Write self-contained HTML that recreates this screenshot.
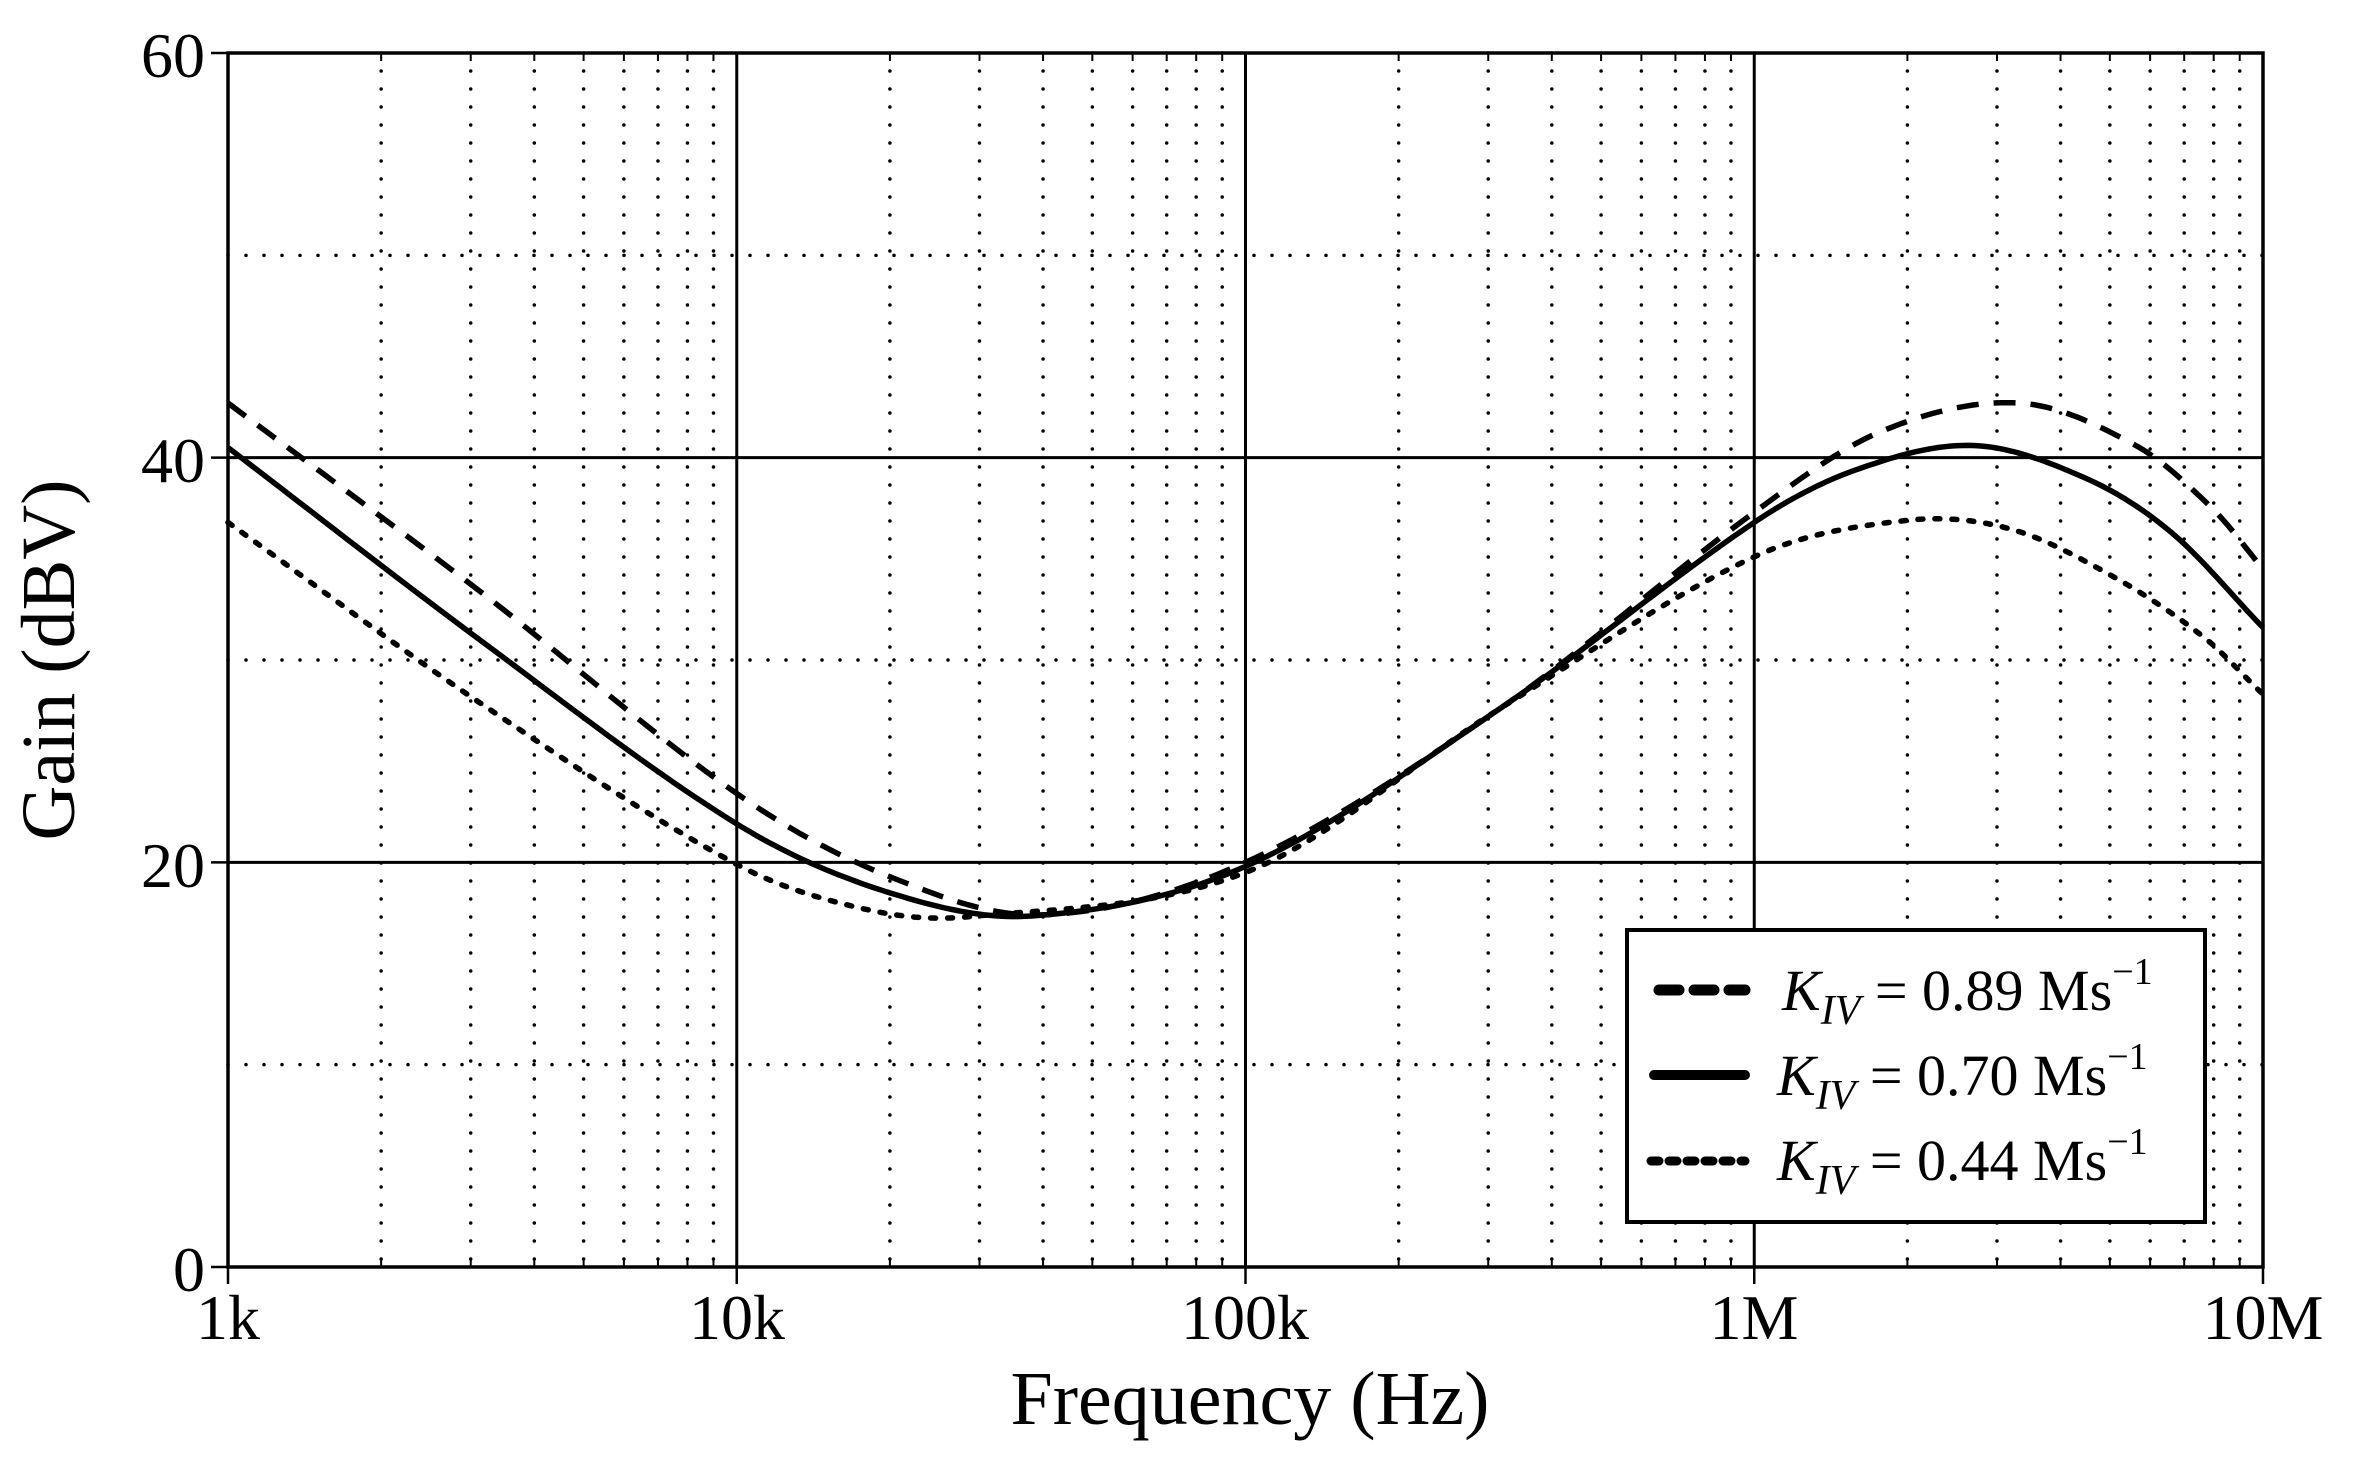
<!DOCTYPE html>
<html><head><meta charset="utf-8"><style>
html,body{margin:0;padding:0;background:#fff;}
svg{display:block;}
text{font-family:"Liberation Serif",serif;fill:#000;}
</style></head><body>
<svg id="s" width="2358" height="1476" xmlns="http://www.w3.org/2000/svg">
<rect width="2358" height="1476" fill="#fff"/>
<g id="grid"></g>
<g id="curves" fill="none" stroke="#000" stroke-width="5.5"></g>
<rect x="228" y="53" width="2035" height="1214" fill="none" stroke="#000" stroke-width="3.5"/>
<g id="ticks" stroke="#000" stroke-width="2.5"></g>
<g font-size="64">
<text x="205" y="77" text-anchor="end">60</text>
<text x="205" y="482" text-anchor="end">40</text>
<text x="205" y="887" text-anchor="end">20</text>
<text x="205" y="1291" text-anchor="end">0</text>
<text x="228" y="1339" text-anchor="middle">1k</text>
<text x="737" y="1339" text-anchor="middle">10k</text>
<text x="1245" y="1339" text-anchor="middle">100k</text>
<text x="1754" y="1339" text-anchor="middle">1M</text>
<text x="2263" y="1339" text-anchor="middle">10M</text>
</g>
<text x="1250" y="1424" font-size="76" text-anchor="middle">Frequency (Hz)</text>
<text transform="translate(74,660) rotate(-90)" font-size="76" text-anchor="middle">Gain (dBV)</text>
<rect x="1627" y="930" width="578" height="292" fill="#fff" stroke="#000" stroke-width="4"/>
<g stroke="#000" stroke-width="11" stroke-linecap="round">
<line x1="1659" y1="990" x2="1745" y2="990" stroke-dasharray="20 15"/>
<line x1="1654" y1="1075" x2="1745" y2="1075" stroke-width="10"/>
<line x1="1651" y1="1161" x2="1745" y2="1161" stroke-width="9" stroke-dasharray="8 10"/>
</g>
<g font-size="58">
<text x="1782" y="1010"><tspan font-style="italic">K</tspan><tspan font-style="italic" font-size="42" dy="14">IV</tspan><tspan dy="-14"> = 0.89 Ms</tspan><tspan font-size="38" dy="-26">−1</tspan></text>
<text x="1777" y="1095"><tspan font-style="italic">K</tspan><tspan font-style="italic" font-size="42" dy="14">IV</tspan><tspan dy="-14"> = 0.70 Ms</tspan><tspan font-size="38" dy="-26">−1</tspan></text>
<text x="1777" y="1180"><tspan font-style="italic">K</tspan><tspan font-style="italic" font-size="42" dy="14">IV</tspan><tspan dy="-14"> = 0.44 Ms</tspan><tspan font-size="38" dy="-26">−1</tspan></text>
</g>
</svg>
<script>
var X0=228,X1=2263,Y0=1267,Y1=53;
function px(l){return X0+(l-3)*(X1-X0)/4;}
function py(d){return Y0-(d)*(Y0-Y1)/60;}
var ns="http://www.w3.org/2000/svg";
var g=document.getElementById('grid'),t=document.getElementById('ticks');
function ln(p,a,b,c,d,w,da){var e=document.createElementNS(ns,'line');e.setAttribute('x1',a);e.setAttribute('y1',b);e.setAttribute('x2',c);e.setAttribute('y2',d);e.setAttribute('stroke','#000');e.setAttribute('stroke-width',w);if(da){e.setAttribute('stroke-dasharray',da);e.setAttribute('stroke-linecap','round');}p.appendChild(e);}
for(var dcd=3;dcd<7;dcd++){for(var k=2;k<10;k++){var x=px(dcd+Math.log10(k));ln(g,x,Y1,x,Y0,3.5,'0 18');ln(t,x,Y0,x,Y0-8,2);ln(t,x,Y1,x,Y1+8,2);}}
for(var d=1;d<4;d++){var x=px(3+d);ln(g,x,Y1,x,Y0,3);}
[20,40].forEach(function(v){ln(g,X0,py(v),X1,py(v),3);});
[10,30,50].forEach(function(v){ln(g,X0,py(v),X1,py(v),3.5,'0 18');});
for(var d=0;d<5;d++){var x=px(3+d);ln(t,x,Y0,x,Y0+17,2.5);}
for(var v=0;v<=60;v+=20){ln(t,X0-17,py(v),X0,py(v),2.5);}
var C={
dash:[[3,42.7],[3.5,33.3],[4,23.4],[4.3,19.3],[4.6,17.4],[5,20],[5.5,27.6],[6,37.3],[6.25,41.3],[6.52,42.7],[6.75,40.6],[6.9,37.5],[7,34.5]],
solid:[[3,40.5],[3.5,30.9],[4,21.9],[4.3,18.5],[4.58,17.35],[5,19.8],[5.5,27.6],[6,36.8],[6.2,39.4],[6.43,40.6],[6.65,39.0],[6.82,36.3],[7,31.6]],
dot:[[3,36.8],[3.5,27.8],[4,19.9],[4.25,17.7],[4.45,17.3],[5,19.5],[5.5,27.6],[6,35.1],[6.3,36.9],[6.5,36.5],[6.7,34.2],[6.88,31.2],[7,28.3]]};
function path(P){var n=P.length,m=[];
for(var i=0;i<n;i++){var a=i>0?i-1:i,b=i<n-1?i+1:i;m[i]=(P[b][1]-P[a][1])/(P[b][0]-P[a][0]);}
var s='';
for(var i=0;i<n-1;i++){var h=P[i+1][0]-P[i][0];for(var k=(i?1:0);k<=24;k++){var u=k/24,h00=2*u*u*u-3*u*u+1,h10=u*u*u-2*u*u+u,h01=-2*u*u*u+3*u*u,h11=u*u*u-u*u;
var x=P[i][0]+u*h,y=h00*P[i][1]+h10*h*m[i]+h01*P[i+1][1]+h11*h*m[i+1];s+=(s?'L':'M')+px(x).toFixed(1)+','+py(y).toFixed(1);}}
return s;}
var cg=document.getElementById('curves');
[['dash','22 15',false],['solid','',false],['dot','5 12',true]].forEach(function(a){var e=document.createElementNS(ns,'path');e.setAttribute('d',path(C[a[0]]));if(a[1])e.setAttribute('stroke-dasharray',a[1]);if(a[2])e.setAttribute('stroke-linecap','round');e.setAttribute('stroke-linejoin','round');cg.appendChild(e);});
</script>
</body></html>
